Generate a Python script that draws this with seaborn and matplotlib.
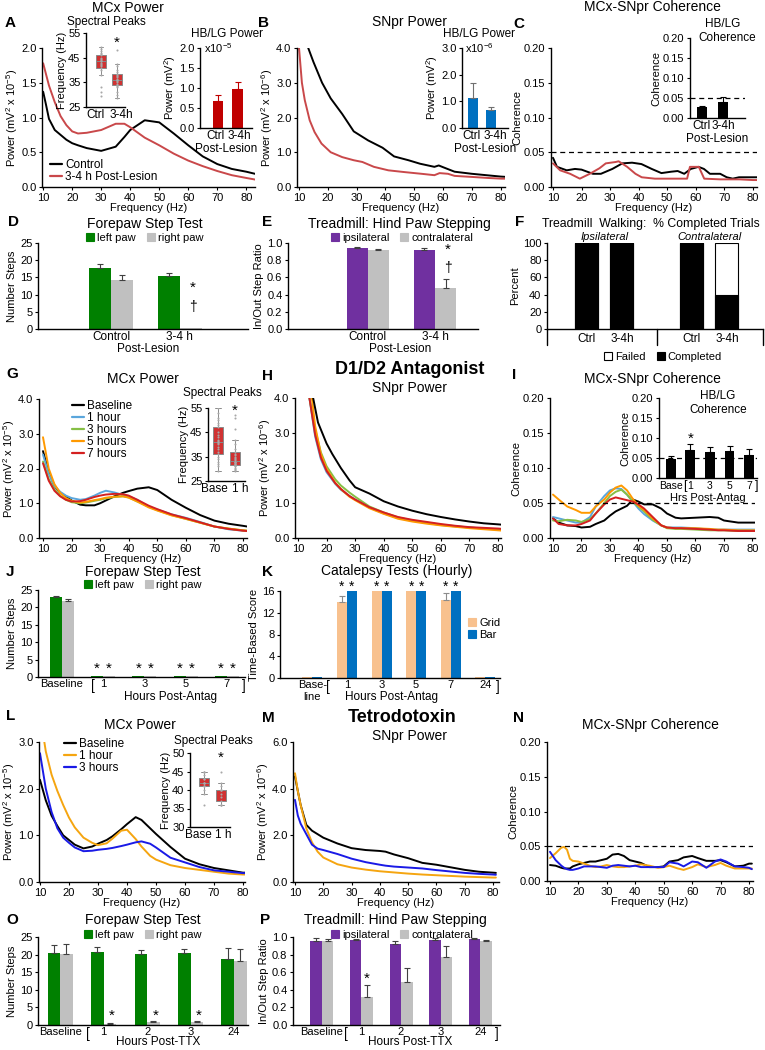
import numpy as np
import pandas as pd
import matplotlib
matplotlib.use("Agg")
import matplotlib.pyplot as plt
from matplotlib.lines import Line2D
from matplotlib.ticker import FormatStrFormatter
import seaborn as sns

W, H = 765, 1050

# ---------------- data ----------------
# A: MCx power after lesion (x10^-5 mV2)
A_FREQ = [10, 11, 12, 14, 16, 18, 20, 22, 25, 30, 35, 38, 40, 45, 50, 55, 60, 65, 70, 75, 80, 84]
A_CTRL = [1.37, 1.18, 0.98, 0.82, 0.75, 0.68, 0.63, 0.60, 0.56, 0.52, 0.58, 0.72, 0.82, 0.96,
          0.93, 0.77, 0.60, 0.44, 0.33, 0.26, 0.22, 0.18]
A_LES = [1.78, 1.62, 1.46, 1.22, 1.02, 0.89, 0.80, 0.77, 0.78, 0.82, 0.91, 0.91, 0.86, 0.71,
         0.60, 0.48, 0.38, 0.30, 0.23, 0.17, 0.13, 0.10]
A_PEAK_CTRL = [29.5, 31, 33, 38, 40, 41, 41.5, 42, 42.5, 43, 43.5, 43.5, 44, 44.5, 45, 46, 46.5,
               47, 47.5, 48.5, 49.5]
A_PEAK_LES = [28.5, 30, 31, 33, 33.5, 34, 34.5, 35, 35.5, 36, 36, 36.5, 37, 37.5, 38, 38.5, 39,
              40, 41.5, 42.5, 48]
A_HB = [0.67, 0.97]
A_HB_ERR = [0.15, 0.17]

# B: SNpr power after lesion (x10^-6 mV2)
B_CTRL_FREQ = [13.2, 15, 18, 21, 25, 29, 34, 39, 43, 48, 52, 57, 58.5, 60, 64, 70, 75, 80, 82]
B_CTRL = [4.0, 3.6, 3.0, 2.55, 2.1, 1.6, 1.34, 1.13, 0.88, 0.77, 0.67, 0.58, 0.62, 0.57, 0.44,
          0.38, 0.34, 0.30, 0.29]
B_LES_FREQ = [10, 11, 12, 13.7, 15.4, 17.8, 21, 25, 29, 32, 36, 41, 46.5, 52.5, 57, 58.8, 61.7,
              64, 70, 75.6, 80.3, 82]
B_LES = [4.0, 3.0, 2.5, 1.92, 1.58, 1.25, 1.0, 0.86, 0.77, 0.72, 0.58, 0.48, 0.43, 0.38, 0.34,
         0.40, 0.38, 0.32, 0.29, 0.26, 0.24, 0.24]
B_HB = [1.12, 0.67]
B_HB_ERR = [0.55, 0.12]

# C: coherence after lesion
C_CTRL_FREQ = [10, 11.4, 14.8, 17.7, 20, 24, 26.8, 30.8, 34.3, 37.7, 41, 44.6, 48, 51.4, 53.7,
               56, 58.3, 61, 62.9, 65, 68.6, 70.9, 73, 75.2, 80, 81.5]
C_CTRL = [0.042, 0.029, 0.024, 0.026, 0.025, 0.019, 0.019, 0.026, 0.034, 0.035, 0.033, 0.026,
          0.020, 0.022, 0.023, 0.019, 0.026, 0.029, 0.026, 0.019, 0.019, 0.014, 0.012, 0.014,
          0.014, 0.014]
C_LES_FREQ = [10, 12.5, 16, 19.4, 22.9, 26.3, 28.5, 32, 33, 36, 38.9, 41.1, 45.7, 52.6, 57, 58,
              61.1, 63, 68.6, 75.4, 80, 81.5]
C_LES = [0.034, 0.024, 0.019, 0.012, 0.019, 0.027, 0.034, 0.036, 0.037, 0.029, 0.019, 0.014,
         0.012, 0.012, 0.012, 0.029, 0.029, 0.012, 0.011, 0.011, 0.010, 0.010]
C_HB = [0.028, 0.040]
C_HB_ERR = [0.002, 0.012]

# D / E / F: behaviour after lesion
D_GROUPS = ["Control", "3-4 h"]
D_LEFT = [17.8, 15.5]
D_LEFT_ERR = [1.2, 0.8]
D_RIGHT = [14.3, 0.3]
D_RIGHT_ERR = [1.5, 0.0]
E_IPSI = [0.94, 0.92]
E_IPSI_ERR = [0.015, 0.02]
E_CONTRA = [0.92, 0.48]
E_CONTRA_ERR = [0.015, 0.10]
F_LABELS = ["Ctrl", "3-4h", "Ctrl", "3-4h"]
F_COMPLETED = [100, 100, 100, 40]
F_TOTAL = [100, 100, 100, 100]

# G / H / I: D1/D2 antagonist
G_FREQ = [10, 12, 14, 16, 18, 20, 23, 25, 28, 30, 32, 35, 38, 40, 43, 47, 50, 55, 60, 65, 70,
          75, 80, 81.5]
G_BASE = [2.5, 1.9, 1.5, 1.3, 1.2, 1.08, 0.96, 0.94, 0.94, 1.0, 1.08, 1.2, 1.3, 1.35, 1.42,
          1.46, 1.38, 1.1, 0.87, 0.66, 0.5, 0.41, 0.35, 0.33]
G_1H = [2.4, 1.85, 1.5, 1.33, 1.22, 1.15, 1.1, 1.12, 1.22, 1.3, 1.36, 1.31, 1.24, 1.2, 1.1, 0.9,
        0.82, 0.68, 0.58, 0.46, 0.33, 0.25, 0.21, 0.2]
G_3H = [2.2, 1.7, 1.4, 1.22, 1.1, 1.03, 1.0, 1.02, 1.07, 1.1, 1.14, 1.18, 1.2, 1.17, 1.05, 0.9,
        0.8, 0.66, 0.55, 0.44, 0.33, 0.27, 0.22, 0.21]
G_5H = [2.9, 2.0, 1.55, 1.3, 1.15, 1.07, 1.02, 1.04, 1.09, 1.12, 1.16, 1.19, 1.2, 1.16, 1.05,
        0.88, 0.79, 0.65, 0.55, 0.44, 0.33, 0.27, 0.22, 0.21]
G_7H = [2.15, 1.65, 1.36, 1.2, 1.1, 1.05, 1.06, 1.1, 1.18, 1.22, 1.25, 1.27, 1.26, 1.22, 1.1,
        0.93, 0.83, 0.68, 0.57, 0.45, 0.33, 0.26, 0.21, 0.2]
G_PEAK_BASE = [29, 31, 32, 33, 34, 35, 36, 37, 38, 39, 40, 40.5, 41, 41.5, 42, 43, 44, 45, 47,
               48, 49, 50, 51, 53, 55]
G_PEAK_1H = [29, 29.5, 30, 30.5, 31, 31, 31.5, 32, 32, 32.5, 33, 33, 33, 33.5, 34, 34.5, 35,
             35.5, 36, 37, 38, 40, 42, 46.5, 51, 52]

H_BASE_FREQ = [15.3, 17, 20, 22, 25, 28, 30, 35, 40, 45, 50, 55, 60, 65, 70, 75, 80, 81.5]
H_BASE = [4.0, 3.3, 2.7, 2.4, 2.0, 1.65, 1.45, 1.27, 1.05, 0.9, 0.78, 0.68, 0.6, 0.53, 0.47,
          0.42, 0.39, 0.38]
H_FREQ = [14, 16, 18, 20, 23, 25, 28, 30, 35, 40, 45, 50, 55, 60, 65, 70, 75, 80, 81.5]
H_1H = [4.0, 2.9, 2.25, 1.88, 1.55, 1.38, 1.2, 1.1, 0.87, 0.7, 0.57, 0.49, 0.43, 0.37, 0.33,
        0.3, 0.27, 0.25, 0.24]
H_3H = [4.0, 3.1, 2.45, 2.05, 1.68, 1.5, 1.3, 1.18, 0.9, 0.73, 0.59, 0.5, 0.44, 0.38, 0.34,
        0.3, 0.27, 0.24, 0.23]
H_5H = [4.6, 3.2, 2.4, 1.98, 1.58, 1.4, 1.18, 1.08, 0.85, 0.69, 0.55, 0.47, 0.41, 0.36, 0.32,
        0.28, 0.25, 0.22, 0.21]
H_7H = [4.0, 2.95, 2.3, 1.92, 1.57, 1.4, 1.2, 1.1, 0.88, 0.73, 0.6, 0.52, 0.46, 0.4, 0.35,
        0.31, 0.29, 0.27, 0.26]

I_FREQ = [10, 12, 15, 18, 20, 23, 25, 28, 30, 32, 34, 36, 38, 40, 42, 45, 48, 50, 53, 55, 60,
          65, 68, 70, 75, 80, 81]
I_BASE = [0.028, 0.022, 0.018, 0.017, 0.015, 0.016, 0.020, 0.025, 0.032, 0.038, 0.042, 0.046,
          0.055, 0.052, 0.048, 0.048, 0.042, 0.035, 0.029, 0.028, 0.029, 0.030, 0.029, 0.025,
          0.022, 0.022, 0.022]
I_1H = [0.030, 0.028, 0.025, 0.022, 0.022, 0.030, 0.045, 0.060, 0.068, 0.071, 0.070, 0.062,
        0.052, 0.042, 0.034, 0.025, 0.018, 0.015, 0.015, 0.015, 0.014, 0.012, 0.012, 0.012,
        0.012, 0.012, 0.012]
I_3H = [0.025, 0.024, 0.026, 0.025, 0.023, 0.027, 0.035, 0.050, 0.060, 0.066, 0.069, 0.062,
        0.052, 0.045, 0.038, 0.026, 0.018, 0.014, 0.013, 0.013, 0.012, 0.011, 0.011, 0.011,
        0.010, 0.010, 0.010]
I_5H = [0.062, 0.055, 0.045, 0.040, 0.036, 0.036, 0.045, 0.055, 0.065, 0.072, 0.075, 0.068,
        0.056, 0.046, 0.040, 0.028, 0.018, 0.015, 0.014, 0.014, 0.014, 0.013, 0.012, 0.012,
        0.011, 0.011, 0.011]
I_7H = [0.028, 0.020, 0.018, 0.018, 0.020, 0.025, 0.035, 0.048, 0.055, 0.058, 0.056, 0.054,
        0.052, 0.048, 0.042, 0.030, 0.018, 0.015, 0.014, 0.014, 0.013, 0.012, 0.011, 0.011,
        0.010, 0.010, 0.010]
I_HB_LABELS = ["Base", "1", "3", "5", "7"]
I_HB = [0.048, 0.071, 0.066, 0.068, 0.058]
I_HB_ERR = [0.008, 0.014, 0.012, 0.011, 0.014]

# J / K: behaviour after antagonist
J_GROUPS = ["Baseline", "1", "3", "5", "7"]
J_LEFT = [23.0, 0.3, 0.2, 0.2, 0.3]
J_LEFT_ERR = [0.4, 0, 0, 0, 0]
J_RIGHT = [21.7, 0.15, 0.15, 0.15, 0.15]
J_RIGHT_ERR = [0.7, 0, 0, 0, 0]
K_GROUPS = ["Base-\nline", "1", "3", "5", "7", "24"]
K_GRID = [0.1, 14.0, 16.0, 16.0, 14.3, 0.1]
K_GRID_ERR = [0, 1.0, 0, 0, 1.3, 0]
K_BAR = [0.15, 16.0, 16.0, 16.0, 16.0, 0.15]
K_BAR_ERR = [0, 0, 0, 0, 0, 0]

# L / M / N: tetrodotoxin
L_FREQ = [10, 12, 14, 16, 18, 20, 22, 25, 28, 30, 33, 35, 38, 40, 43, 45, 48, 50, 55, 60, 65, 70,
          75, 80, 81]
L_BASE = [2.19, 1.75, 1.42, 1.2, 1.0, 0.9, 0.8, 0.72, 0.76, 0.82, 0.9, 0.98, 1.13, 1.24, 1.39,
          1.33, 1.15, 1.03, 0.75, 0.5, 0.38, 0.3, 0.25, 0.2, 0.2]
L_1H = [3.6, 2.8, 2.3, 1.95, 1.65, 1.38, 1.17, 0.95, 0.84, 0.79, 0.83, 0.93, 1.1, 1.12, 0.92,
        0.76, 0.56, 0.48, 0.36, 0.3, 0.26, 0.22, 0.18, 0.16, 0.16]
L_3H = [2.76, 2.0, 1.5, 1.15, 0.95, 0.84, 0.74, 0.66, 0.67, 0.69, 0.71, 0.73, 0.77, 0.8, 0.85,
        0.87, 0.82, 0.74, 0.52, 0.42, 0.32, 0.25, 0.22, 0.19, 0.19]
L_PEAK_BASE = [36, 39, 40, 41, 41, 41, 42, 42, 42, 42, 43, 43, 44, 45, 45, 45]
L_PEAK_1H = [36, 36, 36, 37, 38, 39, 40, 40, 40, 40, 41, 42, 45]

M_FREQ = [10, 11, 12, 14, 16, 18, 20, 25, 30, 35, 40, 42, 45, 50, 55, 60, 65, 70, 75, 80, 81]
M_BASE = [4.52, 3.9, 3.3, 2.45, 2.2, 2.05, 1.9, 1.65, 1.45, 1.37, 1.33, 1.3, 1.18, 1.02, 0.82,
          0.74, 0.63, 0.52, 0.44, 0.4, 0.39]
M_1H = [4.66, 3.9, 3.3, 2.3, 1.7, 1.3, 1.05, 0.76, 0.62, 0.53, 0.46, 0.44, 0.41, 0.36, 0.32,
        0.29, 0.26, 0.23, 0.21, 0.19, 0.19]
M_3H = [3.52, 2.85, 2.5, 2.05, 1.6, 1.43, 1.37, 1.2, 1.0, 0.85, 0.74, 0.7, 0.66, 0.62, 0.58,
        0.51, 0.45, 0.39, 0.35, 0.32, 0.31]

N_FREQ = [10, 12, 14, 15, 16, 17, 18, 20, 22, 24, 26, 28, 30, 32, 34, 36, 38, 40, 42, 45, 48, 50,
          52, 55, 57, 60, 62, 65, 68, 70, 72, 75, 78, 80, 81]
N_BASE = [0.023, 0.022, 0.019, 0.018, 0.018, 0.018, 0.021, 0.024, 0.026, 0.028, 0.028, 0.030,
          0.032, 0.038, 0.039, 0.036, 0.030, 0.028, 0.026, 0.020, 0.020, 0.021, 0.028, 0.030,
          0.034, 0.036, 0.033, 0.029, 0.029, 0.030, 0.027, 0.021, 0.022, 0.025, 0.025]
N_1H = [0.033, 0.040, 0.048, 0.049, 0.045, 0.032, 0.029, 0.028, 0.025, 0.022, 0.020, 0.021,
        0.023, 0.021, 0.020, 0.020, 0.021, 0.022, 0.024, 0.022, 0.019, 0.020, 0.022, 0.018,
        0.016, 0.020, 0.024, 0.020, 0.023, 0.026, 0.022, 0.018, 0.018, 0.018, 0.018]
N_3H = [0.042, 0.030, 0.022, 0.019, 0.017, 0.016, 0.016, 0.018, 0.021, 0.021, 0.021, 0.020,
        0.019, 0.022, 0.023, 0.022, 0.021, 0.022, 0.020, 0.020, 0.020, 0.020, 0.027, 0.025,
        0.021, 0.028, 0.027, 0.019, 0.028, 0.031, 0.028, 0.021, 0.020, 0.019, 0.017]

# O / P: behaviour after TTX
O_GROUPS = ["Baseline", "1", "2", "3", "24"]
O_LEFT = [20.5, 20.8, 20.2, 20.5, 18.8]
O_LEFT_ERR = [2.3, 1.3, 1.0, 1.2, 3.0]
O_RIGHT = [20.2, 0.3, 0.8, 0.8, 18.3]
O_RIGHT_ERR = [2.8, 0.2, 0.3, 0.3, 3.2]
P_IPSI = [0.95, 0.97, 0.92, 0.97, 0.98]
P_IPSI_ERR = [0.04, 0.01, 0.03, 0.02, 0.01]
P_CONTRA = [0.96, 0.32, 0.49, 0.77, 0.96]
P_CONTRA_ERR = [0.02, 0.14, 0.16, 0.13, 0.01]

# ---------------- colours / sizes ----------------
BLACK = "#000000"
LES_RED = "#c9484a"
BAR_RED = "#c00000"
BAR_BLUE = "#0070c0"
BOX_RED = "#d03232"
GREEN = "#008000"
GREY = "#c0c0c0"
PURPLE = "#7030a0"
PEACH = "#f8c18e"
C1H, C3H, C5H, C7H = "#5aa6dc", "#86bf45", "#ff9900", "#d42020"
TTX_ORANGE, TTX_BLUE = "#f5a510", "#1a1ae6"

TICK = 8
LAB = 8
TITLE = 10
SUB = 8.5
LETTER = 11

sns.set_theme(style="ticks")
plt.rcParams["font.family"] = ["Liberation Sans", "DejaVu Sans"]
plt.rcParams.update({
    "axes.edgecolor": "black", "axes.labelcolor": "black", "text.color": "black",
    "xtick.color": "black", "ytick.color": "black", "axes.linewidth": 1.0,
    "mathtext.fontset": "custom", "mathtext.rm": "Liberation Sans",
    "mathtext.it": "Liberation Sans:italic", "mathtext.bf": "Liberation Sans:bold",
    "mathtext.default": "regular",
})

fig = plt.figure(figsize=(W / 100, H / 100), dpi=100)
fig.patch.set_facecolor("white")


def axes_px(l, t, r, b):
    return fig.add_axes([l / W, 1 - b / H, (r - l) / W, (b - t) / H])


def ftext(x, y, s, size=TITLE, weight="normal", ha="center", **kw):
    fig.text(x / W, 1 - y / H, s, fontsize=size, fontweight=weight, ha=ha, va="center", **kw)


def style(ax):
    sns.despine(ax=ax)
    ax.tick_params(labelsize=TICK, length=2.5, width=0.8, pad=1.5)
    ax.set_facecolor("none")


def freq_axes(rect, xlim, ylim, yticks, fmt, ylabel, curves):
    ax = axes_px(*rect)
    for f, v, c in curves:
        sns.lineplot(x=f, y=v, color=c, lw=1.4, ax=ax, legend=False)
    ax.set_xlim(xlim)
    ax.set_ylim(ylim)
    ax.set_xticks(range(10, 81, 10))
    ax.set_yticks(yticks)
    ax.yaxis.set_major_formatter(FormatStrFormatter(fmt))
    ax.set_xlabel("Frequency (Hz)", fontsize=LAB, labelpad=0)
    ax.set_ylabel(ylabel, fontsize=LAB, labelpad=1)
    style(ax)
    return ax


def bars(ax, groups, series, colors, errs, width, ecolor="#404040"):
    names = list(series)
    df = pd.DataFrame({
        "grp": [g for _ in names for g in groups],
        "val": [v for n in names for v in series[n]],
        "kind": [n for n in names for _ in groups],
    })
    sns.barplot(data=df, x="grp", y="val", hue="kind", palette=colors, width=width, gap=0,
                errorbar=None, saturation=1, linewidth=0, legend=False, ax=ax)
    for cont, err in zip(ax.containers, errs):
        for rect, e in zip(cont, err):
            if e > 0:
                ax.errorbar(rect.get_x() + rect.get_width() / 2, rect.get_height(),
                            yerr=[[0], [e]], fmt="none", ecolor=ecolor, elinewidth=0.8,
                            capsize=2, capthick=0.8)
    ax.set_xlabel("")
    ax.set_ylabel("")


def bar_center(ax, hue_i, grp_i):
    r = ax.containers[hue_i][grp_i]
    return r.get_x() + r.get_width() / 2


def bracket(ax, x, ch, dy, size=10):
    ax.annotate(ch, xy=(x, 0), xycoords=("data", "axes fraction"), xytext=(0, -dy * 0.72),
                textcoords="offset points", ha="center", va="center", fontsize=size)


def square_legend(labels, colors, x, y, ncol, edges=None, loc="center", fs=8):
    edges = edges or colors
    handles = [Line2D([], [], marker="s", ls="none", markersize=5.5, markerfacecolor=c,
                      markeredgecolor=e, markeredgewidth=0.8) for c, e in zip(colors, edges)]
    fig.legend(handles, labels, loc=loc, bbox_to_anchor=(x / W, 1 - y / H), ncol=ncol,
               frameon=False, fontsize=fs, handlelength=0.7, handletextpad=0.3,
               columnspacing=1.0, borderpad=0, labelspacing=0.15, borderaxespad=0)


def line_legend(labels, colors, x, y):
    handles = [Line2D([], [], color=c, lw=1.6) for c in colors]
    fig.legend(handles, labels, loc="upper left", bbox_to_anchor=(x / W, 1 - y / H),
               frameon=False, fontsize=8.5, handlelength=1.0, handletextpad=0.3,
               borderpad=0, labelspacing=0.0, borderaxespad=0)


def box_inset(rect, labels, groups, xlim, ylim, yticks, star_y, tick_pos):
    ax = axes_px(*rect)
    df = pd.DataFrame({"g": [l for l, d in zip(labels, groups) for _ in d],
                       "hz": [v for d in groups for v in d]})
    sns.boxplot(data=df, x="g", y="hz", order=labels, color=BOX_RED, linecolor="#8a8a8a",
                linewidth=0.7, width=0.6, showfliers=False, saturation=1, ax=ax)
    sns.stripplot(data=df, x="g", y="hz", order=labels, color="#a8a8a8", size=1.5,
                  jitter=False, ax=ax)
    ax.set_xlim(xlim)
    ax.set_ylim(ylim)
    ax.set_yticks(yticks)
    ax.set_xticks(tick_pos)
    ax.set_xticklabels(labels)
    ax.set_xlabel("")
    ax.set_ylabel("Frequency (Hz)", fontsize=LAB, labelpad=1)
    style(ax)
    ax.tick_params(axis="x", length=0, labelsize=8.5)
    ax.text(1, star_y, "*", ha="center", va="center", fontsize=11)
    return ax


def hb_inset(rect, labels, vals, errs, color, ecolor, xlim, ylim, yticks, fmt, ylabel, width):
    ax = axes_px(*rect)
    bars(ax, labels, {"v": vals}, [color], [errs], width, ecolor=ecolor)
    ax.set_xlim(xlim)
    ax.set_ylim(ylim)
    ax.set_yticks(yticks)
    ax.yaxis.set_major_formatter(FormatStrFormatter(fmt))
    ax.set_ylabel(ylabel, fontsize=LAB, labelpad=1)
    style(ax)
    ax.tick_params(axis="x", length=0, labelsize=8.5)
    return ax


# ================= row 1 : A B C =================
ftext(5, 23, "A", size=LETTER, weight="bold", ha="left")
ftext(128, 8, "MCx Power")
freq_axes((42, 48, 255, 187), (9.6, 83), (0, 2.0), [0, 0.5, 1.0, 1.5, 2.0], "%.1f",
          "Power (mV$^2$ x 10$^{-5}$)", [(A_FREQ, A_CTRL, BLACK), (A_FREQ, A_LES, LES_RED)])
line_legend(["Control", "3-4 h Post-Lesion"], [BLACK, LES_RED], 50, 159)
ftext(106, 22, "Spectral Peaks", size=SUB)
box_inset((86, 33, 125, 107), ["Ctrl", "3-4h"], [A_PEAK_CTRL, A_PEAK_LES], (-0.94, 1.5),
          (25, 55), [25, 35, 45, 55], 51, [-0.35, 1.25])
ftext(227, 34, "HB/LG Power", size=SUB)
ax = hb_inset((200, 48, 252, 128), ["Ctrl", "3-4h"], A_HB, A_HB_ERR, BAR_RED, BAR_RED,
              (-0.95, 1.75), (0, 2.0), [0, 0.5, 1.0, 1.5, 2.0], "%.1f", "Power (mV$^2$)", 0.53)
ax.set_xticks([-0.15, 1.1])
ax.set_xticklabels(["Ctrl", "3-4h"])
ax.set_xlabel("Post-Lesion", fontsize=8.5, labelpad=1)
ax.text(0.08, 1.0, "x10$^{-5}$", transform=ax.transAxes, fontsize=TICK, va="center")

ftext(258, 23, "B", size=LETTER, weight="bold", ha="left")
ftext(410, 22, "SNpr Power")
freq_axes((297, 48, 505, 187), (9.3, 81.5), (0, 4.0), [0, 1, 2, 3, 4], "%.1f",
          "Power (mV$^2$ x 10$^{-6}$)", [(B_CTRL_FREQ, B_CTRL, BLACK), (B_LES_FREQ, B_LES, LES_RED)])
ftext(479, 34, "HB/LG Power", size=SUB)
ax = hb_inset((462, 48, 508, 128), ["Ctrl", "3-4h"], B_HB, B_HB_ERR, BAR_BLUE, "#707070",
              (-0.6, 1.95), (0, 3.0), [0, 1, 2, 3], "%.1f", "Power (mV$^2$)", 0.55)
ax.set_xticks([-0.1, 1.25])
ax.set_xticklabels(["Ctrl", "3-4h"])
ax.set_xlabel("Post-Lesion", fontsize=8.5, labelpad=1)
ax.text(0.06, 1.0, "x10$^{-6}$", transform=ax.transAxes, fontsize=TICK, va="center")

ftext(513, 24, "C", size=LETTER, weight="bold", ha="left")
ftext(652, 7, "MCx-SNpr Coherence")
ax = freq_axes((551, 48, 757, 187), (9.3, 81.5), (0, 0.2), [0, 0.05, 0.10, 0.15, 0.20], "%.2f",
               "Coherence", [(C_CTRL_FREQ, C_CTRL, BLACK), (C_LES_FREQ, C_LES, LES_RED)])
ax.axhline(0.05, color="black", lw=0.9, ls=(0, (4, 3)))
ftext(723, 24, "HB/LG", size=SUB)
ftext(727, 38, "Coherence", size=SUB)
ax = hb_inset((690, 38, 745, 118), ["Ctrl", "3-4h"], C_HB, C_HB_ERR, BLACK, BLACK,
              (-0.57, 2.05), (0, 0.2), [0, 0.05, 0.10, 0.15, 0.20], "%.2f", "Coherence", 0.45)
ax.axhline(0.05, color="black", lw=0.9, ls=(0, (4, 3)))
ax.set_xlabel("Post-Lesion", fontsize=8.5, labelpad=1)

# ================= row 2 : D E F =================
ftext(8, 222, "D", size=LETTER, weight="bold", ha="left")
ftext(145, 224, "Forepaw Step Test")
square_legend(["left paw", "right paw"], [GREEN, GREY], 145, 238, 2)
ax = axes_px(38, 243, 248, 329)
bars(ax, D_GROUPS, {"left": D_LEFT, "right": D_RIGHT}, [GREEN, GREY],
     [D_LEFT_ERR, D_RIGHT_ERR], 0.64)
ax.set_xlim(-1.06, 1.99)
ax.set_ylim(0, 25)
ax.set_yticks(range(0, 26, 5))
ax.set_ylabel("Number Steps", fontsize=LAB, labelpad=2)
style(ax)
ax.tick_params(axis="x", length=0, labelsize=8.5)
ftext(148, 349, "Post-Lesion", size=8.5)
xs = bar_center(ax, 1, 1) + 0.03
ax.text(xs, 12, "*", ha="center", va="center", fontsize=11)
ax.text(xs, 6.4, "\u2020", ha="center", va="center", fontsize=10)

ftext(262, 222, "E", size=LETTER, weight="bold", ha="left")
ftext(399, 224, "Treadmill: Hind Paw Stepping")
square_legend(["ipsilateral", "contralateral"], [PURPLE, GREY], 402, 238, 2)
ax = axes_px(288, 243, 478, 329)
bars(ax, D_GROUPS, {"ipsi": E_IPSI, "contra": E_CONTRA}, [PURPLE, GREY],
     [E_IPSI_ERR, E_CONTRA_ERR], 0.63)
ax.set_xlim(-1.19, 1.64)
ax.set_ylim(0, 1.0)
ax.set_yticks(np.arange(0, 1.01, 0.2))
ax.yaxis.set_major_formatter(FormatStrFormatter("%.1f"))
ax.set_ylabel("In/Out Step Ratio", fontsize=LAB, labelpad=2)
style(ax)
ax.tick_params(axis="x", length=0, labelsize=8.5)
ftext(400, 349, "Post-Lesion", size=8.5)
xs = bar_center(ax, 1, 1) + 0.03
ax.text(xs, 0.92, "*", ha="center", va="center", fontsize=11)
ax.text(xs, 0.71, "\u2020", ha="center", va="center", fontsize=10)

ftext(515, 222, "F", size=LETTER, weight="bold", ha="left")
ftext(651, 224, "Treadmill  Walking:  % Completed Trials", size=8.8)
ax = axes_px(547, 243, 763, 329)
F_POS = [0, 1, 3, 4]
sns.barplot(x=F_POS, y=F_TOTAL, native_scale=True, color="white", edgecolor="black",
            linewidth=0.8, width=0.66, saturation=1, errorbar=None, ax=ax)
sns.barplot(x=F_POS, y=F_COMPLETED, native_scale=True, color="black", edgecolor="black",
            linewidth=0.8, width=0.66, saturation=1, errorbar=None, ax=ax)
ax.set_xlim(-1.14, 5.03)
ax.set_ylim(0, 100)
ax.set_yticks(range(0, 101, 20))
ax.set_xticks(F_POS)
ax.set_xticklabels(F_LABELS)
ax.set_ylabel("Percent", fontsize=LAB, labelpad=2)
style(ax)
ax.tick_params(axis="x", length=0, labelsize=8.5, pad=3)
for xv in (-1.14, 2.0, 5.03):
    ax.plot([xv, xv], [0, -19], color="black", lw=1.0, clip_on=False)
ax.text(0.5, 101, "Ipsilateral", style="italic", ha="center", va="bottom", fontsize=8)
ax.text(3.5, 101, "Contralateral", style="italic", ha="center", va="bottom", fontsize=8)
square_legend(["Failed", "Completed"], ["white", "black"], 663, 357, 2,
              edges=["black", "black"])

# ================= row 3 : G H I =================
ftext(6, 374, "G", size=LETTER, weight="bold", ha="left")
ftext(143, 379, "MCx Power")
freq_axes((39, 399, 247, 538), (8.6, 81.4), (0, 4.0), [0, 1, 2, 3, 4], "%.1f",
          "Power (mV$^2$ x 10$^{-5}$)",
          [(G_FREQ, G_BASE, BLACK), (G_FREQ, G_1H, C1H), (G_FREQ, G_3H, C3H),
           (G_FREQ, G_5H, C5H), (G_FREQ, G_7H, C7H)])
line_legend(["Baseline", "1 hour", "3 hours", "5 hours", "7 hours"],
            [BLACK, C1H, C3H, C5H, C7H], 72, 400)
ftext(222, 393, "Spectral Peaks", size=SUB)
box_inset((208, 408, 245, 481), ["Base", "1 h"], [G_PEAK_BASE, G_PEAK_1H], (-0.59, 1.59),
          (25, 55), [25, 35, 45, 55], 54.0, [-0.2, 1.3])

ftext(262, 376, "H", size=LETTER, weight="bold", ha="left")
ftext(410, 369, "D1/D2 Antagonist", size=13, weight="bold")
ftext(410, 388, "SNpr Power")
freq_axes((295, 398, 501, 538), (8.95, 81.05), (0, 4.0), [0, 1, 2, 3, 4], "%.1f",
          "Power (mV$^2$ x 10$^{-6}$)",
          [(H_FREQ, H_1H, C1H), (H_FREQ, H_3H, C3H), (H_FREQ, H_5H, C5H),
           (H_FREQ, H_7H, C7H), (H_BASE_FREQ, H_BASE, BLACK)])

ftext(512, 375, "I", size=LETTER, weight="bold", ha="left")
ftext(652, 379, "MCx-SNpr Coherence")
ax = freq_axes((550, 398, 755, 538), (8.95, 80.9), (0, 0.2), [0, 0.05, 0.10, 0.15, 0.20], "%.2f",
               "Coherence",
               [(I_FREQ, I_BASE, BLACK), (I_FREQ, I_1H, C1H), (I_FREQ, I_3H, C3H),
                (I_FREQ, I_5H, C5H), (I_FREQ, I_7H, C7H)])
ax.axhline(0.05, color="black", lw=0.9, ls=(0, (4, 3)))
ftext(718, 396, "HB/LG", size=SUB)
ftext(718, 410, "Coherence", size=SUB)
ax = hb_inset((659, 398, 757, 478), I_HB_LABELS, I_HB, I_HB_ERR, BLACK, BLACK,
              (-0.6, 4.4), (0, 0.2), [0, 0.05, 0.10, 0.15, 0.20], "%.2f", "Coherence", 0.5)
ax.axhline(0.05, color="black", lw=0.9, ls=(0, (4, 3)))
ax.set_xticks([0.0, 1, 2, 3, 4])
ax.set_xticklabels(I_HB_LABELS)
ax.tick_params(axis="x", labelsize=7.5, pad=2.5)
ax.set_xlabel("Hrs Post-Antag", fontsize=LAB, labelpad=1)
ax.text(1, 0.098, "*", ha="center", va="center", fontsize=11)
bracket(ax, 0.7, "[", 8, size=9)
bracket(ax, 4.4, "]", 8, size=9)

# ================= row 4 : J K =================
ftext(6, 572, "J", size=LETTER, weight="bold", ha="left")
ftext(143, 572, "Forepaw Step Test")
square_legend(["left paw", "right paw"], [GREEN, GREY], 143, 585, 2)
ax = axes_px(38, 590, 245, 677)
bars(ax, J_GROUPS, {"left": J_LEFT, "right": J_RIGHT}, [GREEN, GREY],
     [J_LEFT_ERR, J_RIGHT_ERR], 0.58)
ax.set_xlim(-0.58, 4.44)
ax.set_ylim(0, 25)
ax.set_yticks(range(0, 26, 5))
ax.set_ylabel("Number Steps", fontsize=LAB, labelpad=2)
style(ax)
ax.tick_params(axis="x", length=0, labelsize=8)
ftext(170, 697, "Hours Post-Antag", size=8.5)
for g in range(1, len(J_GROUPS)):
    for h in range(2):
        ax.text(bar_center(ax, h, g), 2.3, "*", ha="center", va="center", fontsize=11)
bracket(ax, 0.75, "[", 9)
bracket(ax, 4.4, "]", 9)

ftext(262, 572, "K", size=LETTER, weight="bold", ha="left")
ftext(397, 571, "Catalepsy Tests (Hourly)")
ax = axes_px(280, 591, 500, 678)
bars(ax, K_GROUPS, {"grid": K_GRID, "bar": K_BAR}, [PEACH, BAR_BLUE],
     [K_GRID_ERR, K_BAR_ERR], 0.58, ecolor="#8c8c8c")
ax.set_xlim(-0.94, 5.43)
ax.set_ylim(0, 16)
ax.set_yticks(range(0, 17, 4))
ax.set_ylabel("Time-Based Score", fontsize=LAB, labelpad=2)
style(ax)
ax.tick_params(axis="x", length=0, labelsize=8)
ftext(392, 697, "Hours Post-Antag", size=8.5)
for g in range(1, 5):
    for h in range(2):
        ax.text(bar_center(ax, h, g), 16.7, "*", ha="center", va="center", fontsize=10,
                clip_on=False)
bracket(ax, 0.45, "[", 9)
bracket(ax, 5.38, "]", 9)
square_legend(["Grid", "Bar"], [PEACH, BAR_BLUE], 468, 629, 1, loc="center left")

# ================= row 5 : L M N =================
ftext(6, 716, "L", size=LETTER, weight="bold", ha="left")
ftext(140, 725, "MCx Power")
freq_axes((39, 742, 245, 882), (9.66, 80.7), (0, 3.0), [0, 1, 2, 3], "%.1f",
          "Power (mV$^2$ x 10$^{-5}$)",
          [(L_FREQ, L_BASE, BLACK), (L_FREQ, L_1H, TTX_ORANGE), (L_FREQ, L_3H, TTX_BLUE)])
line_legend(["Baseline", "1 hour", "3 hours"], [BLACK, TTX_ORANGE, TTX_BLUE], 64, 738)
ftext(213, 741, "Spectral Peaks", size=SUB)
box_inset((190, 753, 230, 827), ["Base", "1 h"], [L_PEAK_BASE, L_PEAK_1H], (-0.82, 1.53),
          (30, 50), [30, 35, 40, 45, 50], 48.6, [-0.35, 1.15])

ftext(262, 718, "M", size=LETTER, weight="bold", ha="left")
ftext(402, 718, "Tetrodotoxin", size=13, weight="bold")
ftext(410, 736, "SNpr Power")
freq_axes((293, 742, 499, 882), (9.3, 82.1), (0, 6.0), [0, 2, 4, 6], "%.1f",
          "Power (mV$^2$ x 10$^{-6}$)",
          [(M_FREQ, M_BASE, BLACK), (M_FREQ, M_1H, TTX_ORANGE), (M_FREQ, M_3H, TTX_BLUE)])

ftext(513, 718, "N", size=LETTER, weight="bold", ha="left")
ftext(650, 725, "MCx-SNpr Coherence")
ax = freq_axes((547, 742, 753, 881), (8.95, 81.4), (0, 0.2), [0, 0.05, 0.10, 0.15, 0.20], "%.2f",
               "Coherence",
               [(N_FREQ, N_BASE, BLACK), (N_FREQ, N_1H, TTX_ORANGE), (N_FREQ, N_3H, TTX_BLUE)])
ax.axhline(0.05, color="black", lw=0.9, ls=(0, (4, 3)))

# ================= row 6 : O P =================
ftext(6, 920, "O", size=LETTER, weight="bold", ha="left")
ftext(143, 920, "Forepaw Step Test")
square_legend(["left paw", "right paw"], [GREEN, GREY], 143, 935, 2)
ax = axes_px(38, 937, 248, 1025)
bars(ax, O_GROUPS, {"left": O_LEFT, "right": O_RIGHT}, [GREEN, GREY],
     [O_LEFT_ERR, O_RIGHT_ERR], 0.58)
ax.set_xlim(-0.51, 4.32)
ax.set_ylim(0, 25)
ax.set_yticks(range(0, 26, 5))
ax.set_ylabel("Number Steps", fontsize=LAB, labelpad=2)
style(ax)
ax.tick_params(axis="x", length=0, labelsize=8)
ftext(158, 1042, "Hours Post-TTX", size=8.5)
for g in (1, 2, 3):
    ax.text(bar_center(ax, 1, g) + 0.05, 2.6, "*", ha="center", va="center", fontsize=11)
bracket(ax, 0.64, "[", 9)

ftext(260, 920, "P", size=LETTER, weight="bold", ha="left")
ftext(395, 920, "Treadmill: Hind Paw Stepping")
square_legend(["ipsilateral", "contralateral"], [PURPLE, GREY], 402, 935, 2)
ax = axes_px(293, 937, 500, 1025)
bars(ax, O_GROUPS, {"ipsi": P_IPSI, "contra": P_CONTRA}, [PURPLE, GREY],
     [P_IPSI_ERR, P_CONTRA_ERR], 0.58)
ax.set_xlim(-0.73, 4.5)
ax.set_ylim(0, 1.0)
ax.set_yticks(np.arange(0, 1.01, 0.2))
ax.yaxis.set_major_formatter(FormatStrFormatter("%.1f"))
ax.set_ylabel("In/Out Step Ratio", fontsize=LAB, labelpad=2)
style(ax)
ax.tick_params(axis="x", length=0, labelsize=8)
ftext(410, 1042, "Hours Post-TTX", size=8.5)
ax.text(bar_center(ax, 1, 1), 0.53, "*", ha="center", va="center", fontsize=11)
bracket(ax, 0.6, "[", 9)
bracket(ax, 4.42, "]", 9)

fig.savefig("out.png", dpi=100)
